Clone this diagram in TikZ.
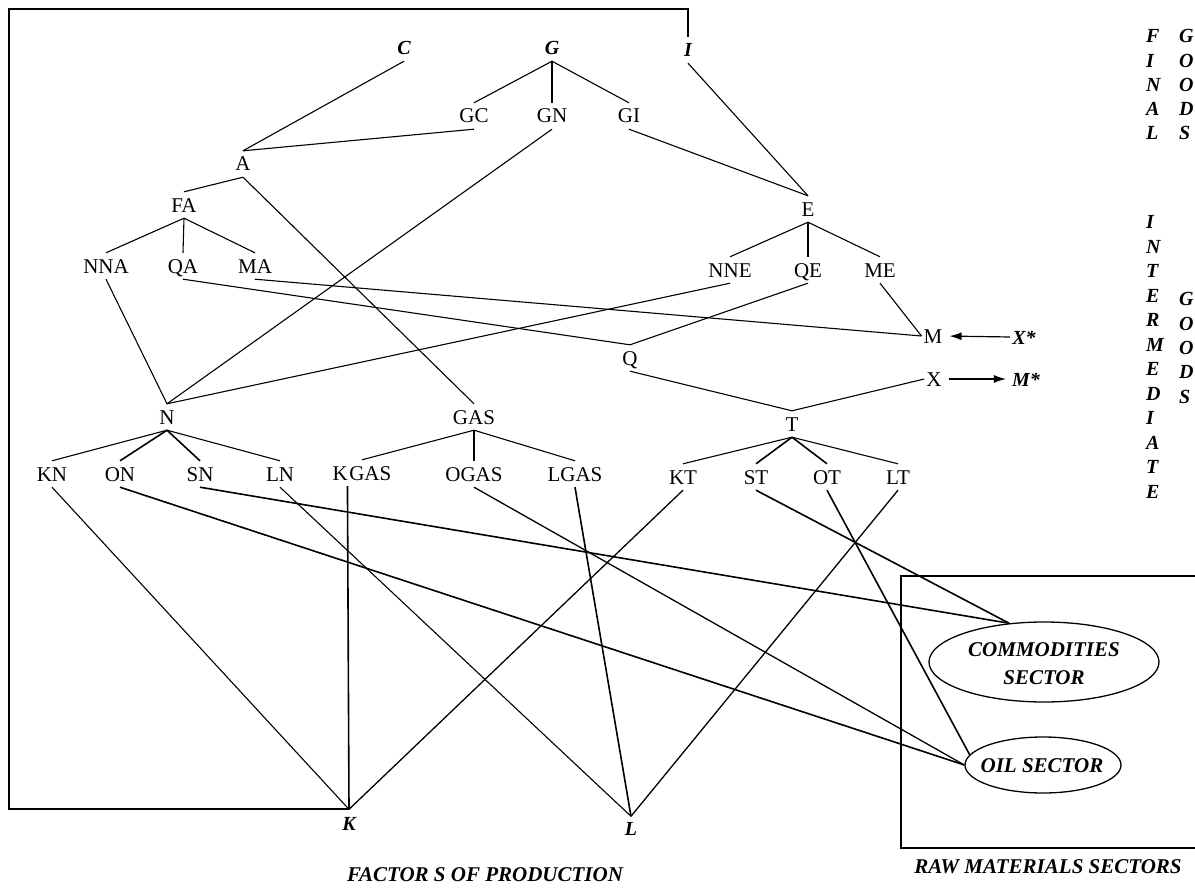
\documentclass[tikz,border=0pt]{standalone}
\usepackage{fontspec}
\setmainfont{Liberation Serif}
\usetikzlibrary{arrows.meta,shapes.geometric,calc}
\begin{document}
\begin{tikzpicture}[x=1pt,y=-1pt,
  lab/.style={font=\fontsize{21}{21}\selectfont, text height=14pt, text depth=0pt, inner xsep=2pt, inner ysep=6pt},
  blab/.style={font=\fontsize{20}{20}\selectfont\bfseries\itshape, text height=14pt, text depth=0pt, inner xsep=2pt, inner ysep=6pt},
  fac/.style={font=\fontsize{20}{20}\selectfont\bfseries\itshape, text height=13pt, text depth=0pt, inner xsep=2pt},
  col/.style={font=\fontsize{20}{20}\selectfont\bfseries\itshape, text height=13.5pt, text depth=0pt, anchor=west, inner sep=0pt},
  captxt/.style={font=\fontsize{21}{21}\selectfont\bfseries\itshape, inner sep=0pt},
  sectxt/.style={font=\fontsize{21}{28}\selectfont\bfseries\itshape, align=center, inner sep=0pt},
  sector/.style={draw, ellipse, line width=1.3pt, inner sep=0pt},
  ln/.style={line width=1.1pt},
  md/.style={line width=1.3pt},
  tk/.style={line width=1.6pt},
  arr/.style={line width=1.2pt, -{Latex[length=12pt,width=8pt]}}
]
\useasboundingbox (0,0) rectangle (1195,888);

% top level
\node[blab] (C) at (404,48) {C};
\node[blab] (G) at (552,48) {G};
\node[blab] (I) at (688,50) {I};
\node[lab] (GC) at (474,116) {GC};
\node[lab] (GN) at (552,116) {GN};
\node[lab] (GI) at (629,116) {GI};
\node[lab] (A) at (243,164) {A};
\node[lab] (FA) at (184,205) {FA};
\node[lab] (E) at (808,209) {E};
\node[lab] (NNA) at (106,266) {NNA};
\node[lab] (QA) at (183,266) {QA};
\node[lab] (MA) at (255,266) {MA};
\node[lab] (NNE) at (730,270) {NNE};
\node[lab] (QE) at (808,270) {QE};
\node[lab] (ME) at (880,270) {ME};
\node[lab] (M) at (933,336) {M};
\node[blab] (Xs) at (1024,337) {X*};
\node[lab] (Q) at (630,358) {Q};
\node[lab] (X) at (934,379) {X};
\node[blab] (Ms) at (1026,379) {M*};
\node[lab] (N) at (167,417) {N};
\node[lab] (GAS) at (474,417) {GAS};
\node[lab] (T) at (792,424) {T};
\node[lab] (KN) at (52,474) {KN};
\node[lab] (ON) at (120,474) {ON};
\node[lab] (SN) at (200,474) {SN};
\node[lab] (LN) at (280,474) {LN};
\node[lab] (KGAS) at (362,473) {K\kern1.5pt GAS};
\node[lab] (OGAS) at (474,474) {OGAS};
\node[lab] (LGAS) at (575,474) {LGAS};
\node[lab] (KT) at (683,477) {KT};
\node[lab] (ST) at (756,477) {ST};
\node[lab] (OT) at (827,477) {OT};
\node[lab] (LT) at (898,477) {LT};
\node[fac, inner ysep=8pt] (K) at (349,824) {K};
\node[fac, inner ysep=6pt] (L) at (631,829) {L};

% raw materials sectors
\node[sector, minimum width=230pt, minimum height=80pt] (COMM) at (1044,662) {};
\node[sectxt] (commtxt) at (1044,664) {COMMODITIES\\SECTOR};
\node[sector, minimum width=156pt, minimum height=56pt] (OIL) at (1043,765) {};
\node[sectxt] (oiltxt) at (1042,766) {OIL SECTOR};

% frame
\draw[line width=1.3pt] (I.north) |- (9,9) |- (K.north);
\draw[line width=2pt] (K.north) -- ++(-340,0);
\draw[line width=1.8pt] (1200,576) -- (901,576) -- (901,848) -- (1200,848);

% captions
\node[captxt] (fop) at (485,875) {FACTOR S OF PRODUCTION};
\node[captxt] (rms) at (1048,867) {RAW MATERIALS SECTORS};

% side columns
\foreach \t [count=\i] in {F,I,N,A,L}
  \node[col] (fin\i) at (1146,{36+24.3*(\i-1)}) {\t};
\foreach \t [count=\i] in {G,O,O,D,S}
  \node[col] (fgo\i) at (1179,{36+24.3*(\i-1)}) {\t};
\foreach \t [count=\i] in {I,N,T,E,R,M,E,D,I,A,T,E}
  \node[col] (int\i) at (1146,{222+24.5*(\i-1)}) {\t};
\foreach \t [count=\i] in {G,O,O,D,S}
  \node[col] (igo\i) at (1179,{299+24.4*(\i-1)}) {\t};

% upper connectors
\draw[ln] (C.south) -- (A.north);
\draw[ln] (G.south) -- (GC.north);
\draw[ln] (G.south) -- (GN.north);
\draw[ln] (G.south) -- (GI.north);
\draw[ln] (GC.south) -- (A.north);
\draw[ln] (GN.south) -- (N.north);
\draw[ln] (GI.south) -- (E.north);
\draw[ln] (I.south) -- (E.north);
\draw[ln] (A.south) -- (FA.north);
\draw[ln] (A.south) -- (GAS.north);
\draw[ln] (FA.south) -- (NNA.north);
\draw[ln] (FA.south) -- (QA.north);
\draw[ln] (FA.south) -- (MA.north);
\draw[ln] (E.south) -- (NNE.north);
\draw[ln] (E.south) -- (QE.north);
\draw[ln] (E.south) -- (ME.north);
\draw[ln] (NNA.south) -- (N.north);
\draw[ln] (NNE.south) -- (N.north);
\draw[ln] (QA.south) -- (Q.north);
\draw[ln] (QE.south) -- (Q.north);
\draw[ln] (MA.south) -- (M.west);
\draw[ln] (ME.south) -- (M.west);
\draw[ln] (Q.south) -- (T.north);
\draw[ln] (X.west) -- (T.north);
\draw[arr, shorten >=5pt] (Xs.west) -- (M.east);
\draw[arr, shorten <=5pt, shorten >=4pt] (X.east) -- (Ms.west);

% second level
\draw[ln] (N.south) -- (KN.north);
\draw[tk] (N.south) -- (ON.north);
\draw[tk] (N.south) -- (SN.north);
\draw[ln] (N.south) -- (LN.north);
\draw[ln] (GAS.south) -- (KGAS.north);
\draw[ln] (GAS.south) -- (OGAS.north);
\draw[ln] (GAS.south) -- (LGAS.north);
\draw[ln] (T.south) -- (KT.north);
\draw[tk] (T.south) -- (ST.north);
\draw[tk] (T.south) -- (OT.north);
\draw[ln] (T.south) -- (LT.north);

% factors and sectors
\draw[ln] (KN.south) -- (K.north);
\draw[tk] ($(KGAS.south west)+(17,0)$) -- (K.north);
\draw[md] (KT.south) -- (K.north);
\draw[ln] (LN.south) -- (L.north);
\draw[tk] (LGAS.south) -- (L.north);
\draw[md] (LT.south) -- (L.north);
\draw[tk] (SN.south) -- (COMM.132);
\draw[tk] (ST.south) -- (COMM.132);
\draw[tk] (ON.south) -- (OIL.west);
\draw[md] (OGAS.south) -- (OIL.west);
\draw[tk] (OT.south) -- (OIL.172);
\end{tikzpicture}
\end{document}
